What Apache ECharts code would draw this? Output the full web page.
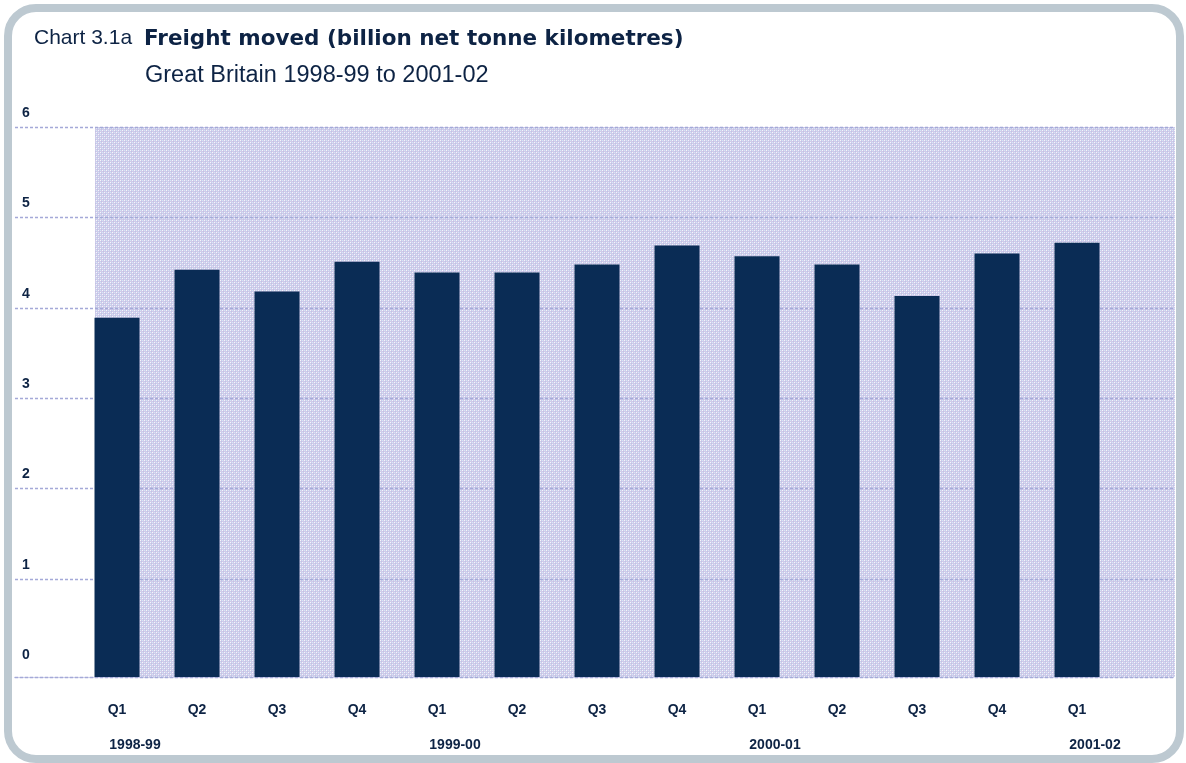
<!DOCTYPE html>
<html>
<head>
<meta charset="utf-8">
<script src="https://cdn.jsdelivr.net/npm/echarts@6/dist/echarts.min.js"></script>
<style>
  html, body { margin: 0; padding: 0; background: #ffffff; }
  #chart { width: 1186px; height: 763px; }
</style>
</head>
<body>
<div id="chart"></div>
<script>
// Quarterly rail freight moved, billion net tonne kilometres
const quarters = ['Q1', 'Q2', 'Q3', 'Q4', 'Q1', 'Q2', 'Q3', 'Q4', 'Q1', 'Q2', 'Q3', 'Q4', 'Q1'];
const years = ['1998-99', '', '', '', '1999-00', '', '', '', '2000-01', '', '', '', '2001-02'];
const freight = [3.89, 4.42, 4.18, 4.51, 4.39, 4.39, 4.48, 4.69, 4.57, 4.48, 4.13, 4.60, 4.72];
const yMin = 0;
const yMax = 6;
const yStep = 1;

const NAVY = '#0d2344';
const BAR = '#0a2c55';
const GRIDLINE = '#a4a9d8';
const FONT = '"Liberation Sans", Arial, sans-serif';

// The bars stand on a base line drawn slightly below the zero gridline
const barBase = -0.084;

// Fine dotted screen used behind the plot
function makeScreen() {
  const c = document.createElement('canvas');
  c.width = 4; c.height = 4;
  const g = c.getContext('2d');
  g.fillStyle = '#cecbea';
  g.fillRect(0, 0, 4, 4);
  g.fillStyle = '#f5f4fb';
  g.fillRect(0, 0, 1, 1);
  g.fillRect(2, 2, 1, 1);
  g.fillStyle = '#d2e8f6';
  g.fillRect(2, 0, 1, 1);
  g.fillRect(0, 2, 1, 1);
  g.fillStyle = '#c3c1e3';
  g.fillRect(1, 1, 1, 1);
  g.fillRect(3, 3, 1, 1);
  return c;
}

const chart = echarts.init(document.getElementById('chart'), null, { renderer: 'canvas' });

const hiddenAxis = {
  show: false
};

chart.setOption({
  animation: false,
  backgroundColor: '#ffffff',
  title: [
    {
      left: 34, top: 28, padding: 0,
      text: 'Chart 3.1a',
      textStyle: { fontFamily: FONT, fontSize: 21, fontWeight: 'normal', color: NAVY }
    },
    {
      left: 144, top: 28, padding: 0,
      text: 'Freight moved (billion net tonne kilometres)',
      textStyle: { fontFamily: '"DejaVu Sans", sans-serif', fontSize: 21.5, fontWeight: 'bold', color: NAVY }
    },
    {
      left: 145, top: 64, padding: 0,
      text: 'Great Britain 1998-99 to 2001-02',
      textStyle: { fontFamily: FONT, fontSize: 23.5, fontWeight: 'normal', color: NAVY }
    }
  ],
  graphic: [
    {
      type: 'rect',
      shape: { x: 8, y: 8, width: 1172, height: 751, r: 28 },
      style: { fill: 'none', stroke: '#bdc9d1', lineWidth: 8 },
      silent: true,
      z: 10
    }
  ],
  grid: [
    // value gridlines and labels, running out to the left edge
    { left: 15, right: 11, top: 127, bottom: 93.6, containLabel: false },
    // screened plot background
    { left: 95, right: 11, top: 127, bottom: 86, show: true, borderWidth: 0,
      backgroundColor: { image: makeScreen(), repeat: 'repeat' } },
    // bars
    { left: 77, width: 1040, top: 127, bottom: 86 }
  ],
  xAxis: [
    {
      gridIndex: 0, type: 'value', min: 0, max: 1,
      position: 'bottom', offset: 7.6,
      axisLine: { show: true, onZero: false, lineStyle: { color: GRIDLINE, width: 1.3, type: [3, 2] } },
      axisTick: { show: false }, axisLabel: { show: false }, splitLine: { show: false }
    },
    Object.assign({ gridIndex: 1, type: 'value', min: 0, max: 1 }, hiddenAxis),
    {
      gridIndex: 2, type: 'category', data: quarters, position: 'bottom',
      axisLine: { show: false, onZero: false }, axisTick: { show: false },
      axisLabel: { interval: 0, margin: 26, fontFamily: FONT, fontSize: 14, fontWeight: 'bold', color: NAVY }
    },
    {
      gridIndex: 2, type: 'category', data: years, position: 'bottom',
      axisLine: { show: false, onZero: false }, axisTick: { show: false },
      axisLabel: { interval: 0, margin: 61, padding: [0, 0, 0, 36],
        fontFamily: FONT, fontSize: 14, fontWeight: 'bold', color: NAVY }
    }
  ],
  yAxis: [
    {
      gridIndex: 0, type: 'value', min: yMin, max: yMax, interval: yStep,
      axisLine: { show: false }, axisTick: { show: false },
      axisLabel: {
        inside: true, margin: 7, align: 'left', verticalAlign: 'bottom',
        lineHeight: 28,
        fontFamily: FONT, fontSize: 14, fontWeight: 'bold', color: NAVY
      },
      splitLine: {
        show: true,
        lineStyle: {
          color: ['rgba(0,0,0,0)', GRIDLINE, GRIDLINE, GRIDLINE, GRIDLINE, GRIDLINE, GRIDLINE],
          width: 1.3, type: [3, 2]
        }
      }
    },
    Object.assign({ gridIndex: 1, type: 'value', min: yMin, max: yMax }, hiddenAxis),
    {
      gridIndex: 2, type: 'value', min: barBase, max: yMax, startValue: barBase,
      show: false, splitLine: { show: false }
    }
  ],
  series: [
    {
      name: 'Freight moved',
      type: 'bar',
      xAxisIndex: 2,
      yAxisIndex: 2,
      data: freight,
      barWidth: 45,
      itemStyle: { color: BAR },
      z: 3
    }
  ]
});
</script>
</body>
</html>
